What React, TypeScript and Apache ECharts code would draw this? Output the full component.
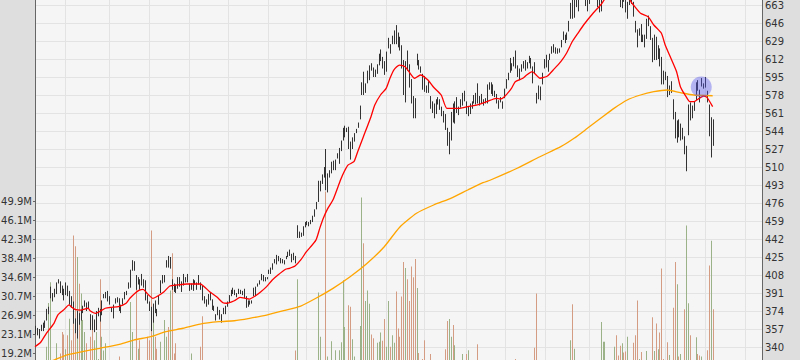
import React, { useEffect, useRef } from "react";
import * as echarts from "echarts";

// Daily bars [open, high, low, close], 2011-07-08 .. 2012-12-07
const priceBars: number[][] = [
  // Jul 2011
  [353,360,352,359.7],[356,358,351,354.0],[354,357,348,353.8],[358,361,355,358.0],[361,363,355,357.8],[361,365,358,364.9],[366,376,365,373.8],[378,378,371,376.9],[397,397,386,386.9],[387,391,383,387.3],[388,395,387,393.3],[391,401,390,398.5],[401,404,400,403.4],[401,402,391,392.6],[391,398,389,391.8],[387,395,384,390.5],
  // Aug 2011
  [397,401,389,396.8],[397,398,388,388.9],[390,393,380,392.6],[387,388,377,377.4],[380,383,362,373.6],[361,367,353,353.2],[362,374,348,374.0],[371,372,361,363.7],[368,375,365,373.7],[378,379,372,377.0],[379,384,378,383.4],[381,382,374,380.5],[383,383,376,380.4],[370,371,356,366.1],[362,370,356,356.0],[365,366,354,356.4],[360,374,356,373.6],[373,377,369,376.2],[365,376,364,373.7],[371,384,370,383.6],[388,390,386,390.0],[389,392,386,390.1],[392,393,383,384.8],
  // Sep 2011
  [386,388,380,381.0],[375,377,373,374.1],[368,380,367,379.7],[386,386,381,383.9],[383,387,382,384.1],[383,386,374,377.5],[373,380,372,379.9],[382,386,380,384.6],[387,392,385,389.3],[391,393,389,393.0],[395,401,395,400.5],[397,413,396,411.6],[414,422,412,413.5],[419,421,412,412.1],[401,408,394,401.8],[399,406,399,404.3],[400,404,394,403.2],[409,409,398,399.3],[400,404,396,397.0],[402,403,384,390.6],[388,389,381,381.3],
  // Oct 2011
  [380,383,374,374.6],[375,378,355,372.5],[368,381,363,378.3],[374,384,372,377.4],[375,376,369,369.8],[380,389,380,388.8],[392,403,391,400.3],[406,408,400,402.2],[405,408,401,408.4],[417,422,415,422.0],[422,426,415,420.0],[422,425,414,422.2],[402,404,394,398.6],[399,400,392,395.3],[398,399,391,392.9],[396,406,395,405.8],[405,406,397,397.8],[402,402,392,400.6],[408,409,398,404.7],[402,406,401,405.0],[403,409,401,404.8],
  // Nov 2011
  [397,400,393,396.5],[400,400,394,397.4],[399,404,393,403.1],[402,403,399,400.2],[401,401,394,399.7],[403,408,399,406.2],[397,401,394,395.3],[398,398,384,385.2],[387,388,381,384.6],[384,385,378,379.3],[380,390,380,388.8],[389,391,384,384.8],[384,385,375,377.4],[379,379,374,374.9],[370,371,365,369.0],[371,378,370,376.5],[374,375,366,366.0],[368,371,363,363.6],[373,377,371,376.1],[376,379,371,373.2],[382,383,378,382.2],
  // Dec 2011
  [383,389,382,387.9],[390,394,388,389.7],[394,396,390,393.0],[393,394,389,391.0],[390,391,387,389.1],[391,395,390,390.7],[392,394,390,393.6],[391,393,389,391.8],[393,395,386,388.8],[387,388,377,380.2],[383,384,378,378.9],[381,384,380,381.0],[383,384,381,382.2],[388,396,388,396.0],[396,397,388,396.5],[398,400,397,398.6],[400,403,399,403.3],[403,409,403,406.5],[406,408,402,402.6],[403,406,402,405.1],[404,406,404,405.0],
  // Jan 2012
  [409,413,409,411.2],[411,415,409,413.4],[415,419,413,418.0],[420,423,419,422.4],[425,427,418,421.7],[426,426,421,423.2],[422,424,419,422.6],[423,423,419,421.4],[420,422,418,419.8],[425,426,423,424.7],[426,430,425,429.1],[431,432,426,427.8],[427,428,420,420.3],[423,429,422,427.4],[426,426,419,420.4],[454,455,443,446.7],[449,449,443,444.6],[445,448,444,447.3],[446,454,445,453.0],[456,458,453,456.5],
  // Feb 2012
  [459,459,455,456.2],[456,458,454,455.1],[458,460,456,459.7],[459,464,458,464.0],[465,470,463,468.8],[471,477,470,476.7],[480,497,477,493.2],[487,497,487,493.4],[499,503,494,502.6],[505,510,500,509.5],[515,527,488,497.7],[491,504,486,502.2],[504,507,500,502.1],[506,515,504,514.9],[514,516,507,513.0],[515,517,507,516.4],[520,523,518,522.4],[518,528,513,525.8],[527,535,525,535.4],[541,547,535,542.4],
  // Mar 2012
  [548,549,538,544.5],[544,547,543,545.2],[545,548,527,533.2],[523,534,517,530.3],[537,538,527,530.7],[534,542,534,542.0],[545,546,542,545.2],[548,552,547,552.0],[557,568,555,568.1],[579,590,578,589.6],[599,600,578,585.6],[584,589,580,585.61],[599,601,589,601.1],[599,606,592,606.0],[603,608,601,602.5],[597,604,595,599.3],[601,602,595,596.1],[600,607,598,607.0],[607,617,606,614.5],[618,621,610,617.6],[613,614,603,609.9],[609,610,597,599.6],
  // Apr 2012
  [601,619,600,618.6],[627,632,622,629.3],[624,626,617,624.3],[627,634,626,633.7],[627,639,626,636.2],[640,644,626,628.4],[637,637,623,626.2],[626,633,620,622.8],[624,625,603,605.2],[610,611,578,580.1],[578,610,571,609.7],[613,620,601,608.3],[606,607,585,587.4],[591,593,570,573.0],[571,577,556,571.7],[571,575,556,560.3],[615,617,606,610.0],[608,611,602,607.7],[605,605,599,603.0],[598,598,583,584.0],
  // May 2012
  [584,596,581,582.1],[581,587,580,586.0],[590,591,580,581.8],[575,577,565,565.3],[561,572,561,569.5],[567,570,556,568.2],[563,574,560,569.2],[575,576,569,570.5],[565,574,564,566.7],[562,567,558,558.2],[563,563,552,553.2],[557,560,545,546.1],[546,547,530,530.1],[534,543,522,530.4],[535,562,535,561.3],[570,570,552,557.0],[557,572,551,570.6],[575,576,561,565.3],[565,567,559,562.3],[570,574,566,572.3],[570,580,568,579.2],[581,582,572,577.7],
  // Jun 2012
  [570,572,560,561.0],[561,567,558,564.3],[562,570,560,562.8],[568,572,565,571.5],[578,578,570,571.7],[571,580,569,580.3],[588,589,570,571.2],[575,577,568,576.2],[574,579,570,572.2],[572,574,568,571.5],[572,575,570,574.1],[571,588,570,585.8],[583,590,583,587.4],[589,590,579,585.7],[585,588,577,577.7],[579,582,576,582.1],[577,579,570,570.8],[573,573,565,572.0],[575,576,571,574.5],[572,572,565,569.1],[578,584,575,584.0],
  // Jul 2012
  [585,593,584,592.5],[594,599,592,599.4],[601,613,599,609.9],[607,608,601,605.9],[606,614,605,613.9],[620,620,603,608.2],[606,606,595,604.4],[601,603,592,598.9],[602,607,600,605.0],[605,610,603,606.9],[611,611,601,606.94],[606,609,603,606.3],[611,615,608,614.3],[612,613,603,604.3],[595,605,589,603.8],[608,609,598,600.9],[575,580,570,575.0],[587,587,574,574.9],[577,586,573,585.2],[590,599,588,595.0],[604,612,603,610.8],
  // Aug 2012
  [615,616,604,606.8],[603,611,600,607.8],[613,617,611,615.7],[618,624,617,622.6],[623,626,618,620.9],[619,623,617,619.9],[618,622,617,620.7],[619,622,618,621.7],[624,630,623,630.0],[632,638,630,631.7],[632,635,627,630.8],[631,637,630,636.3],[640,648,638,648.1],[651,665,650,665.2],[670,674,650,656.1],[654,669,651,668.9],[667,669,661,662.6],[659,670,657,663.2],[679,681,671,675.7],[675,677,670,674.8],[675,677,670,673.5],[670,671,662,663.9],[668,668,657,665.2],
  // Sep 2012
  [665,676,664,675.0],[675,677,669,670.2],[673,677,668,676.3],[678,683,677,680.4],[681,682,661,662.7],[665,670,656,660.6],[666,670,657,669.8],[677,685,674,683.0],[689,696,687,691.3],[699,700,694,699.8],[699,703,697,701.9],[700,703,699,702.1],[699,700,693,698.7],[702,705,699,700.1],[686,696,684,690.8],[688,692,673,673.5],[668,673,661,665.2],[664,682,660,681.3],[678,682,666,667.1],
  // Oct 2012
  [671,676,656,659.4],[662,666,650,661.3],[664,672,663,671.5],[672,674,664,666.8],[665,666,652,652.6],[646,648,637,638.2],[639,640,623,635.9],[637,641,634,640.9],[644,645,628,628.1],[629,635,628,629.7],[632,635,623,634.8],[636,650,631,649.8],[648,653,643,644.6],[639,643,630,632.6],[631,632,609,609.8],[612,635,611,634.0],[631,633,611,613.4],[621,625,612,616.8],[620,622,605,609.5],[602,614,588,604.0],[594,601,588,595.3],
  // Nov 2012
  [599,600,592,596.5],[595,596,576,576.8],[583,587,578,584.6],[590,591,580,582.9],[573,574,555,558.0],[561,562,537,537.8],[540,554,533,547.1],[555,555,538,542.8],[538,551,535,542.9],[546,547,536,536.9],[537,539,522,525.6],[526,530,506,527.7],[541,569,540,565.7],[568,571,554,560.9],[564,568,556,561.7],[567,572,563,571.5],[575,590,573,589.5],[590,592,582,584.8],[577,583,571,582.9],[592,594,586,589.4],[587,589,584,585.3],
  // Dec 2012
  [593,595,585,586.2],[581,582,571,575.9],[568,569,539,538.8],[528,557,519,547.2],[553,555,530,533.3],
];

// Daily volume, millions of shares
const volumes: number[] = [
  14,12,13,15,14,16,20.5,29.4,33.6,17,16,21.2,17,19.1,23.5,23.0,
  20.0,22.8,26.2,21.8,43.1,40.9,38.7,33.3,31.3,25.9,23.5,21.2,17.0,22.5,24.5,21.8,23.5,18.0,34.2,22.5,19.7,21.2,16.5,
  14,12,15,13,14,18.5,13,15,17.8,16,17,29.6,23.5,17,34.6,20.1,21.8,17,16,17,22.5,
  21.8,44.1,26.0,22.5,20.1,17,21.5,17,25.9,22.5,24.5,31.9,39.5,19.1,21.2,16,14,13,15,13,12,
  13,19.1,14,12,11,13,20.5,26.7,15,13,14,12,15,12,13,11,10,8,12,11,14,
  16,13,12,11,10,12,13,11,12,15,14,16,11,16,11,9,8,9,8,7,7,
  10,9,10,11,12,10,9,8,9,10,9,9,15,9,19.7,34.2,17,12,11,14,
  13,11,13,11,16,17,31.5,22.5,17,17,52,18.5,14,21.6,15,19.8,15,19.8,21.4,34.0,
  24.5,16,28.9,28.6,22,18.5,15,16,24.7,50.8,41.5,29.8,31.9,29.2,23.0,22.2,17,21.3,21.5,23.4,21.7,26.1,
  20.5,29.8,20.5,22.8,21.3,31.7,24.2,22.5,30.7,37.7,36.5,34.2,29.8,36.8,34.6,38.3,32.4,19.2,16,18,
  21.8,15,16,19,17,16,15,13,14,17,17.5,20,25.7,26.1,22.5,24.9,20.8,17,13,16,19,17,
  19,19.8,15,14,13,14,21,16,14,13,15,17,16,14,13,11,14,10,9,11,16,
  15,9,14,11,12,18,15,16,13,11,12,11,15,14,13,20.3,31.3,17,14,13,15,
  14,12,12,11,12,9,8,7,9,13,11,9,17,21.8,29.1,20.1,15,13,16,10,7,9,12,
  12,12,11,12,17,16,25.5,21.5,21.5,17,13,11,12,20.5,22.8,18.7,20.7,21.2,19.3,
  19.5,22.5,15,14,21.3,22.8,29.9,18,19.4,17,15,19.6,17,15,26.5,19.6,25.2,20,23.4,36.4,18,
  15,21.4,18.8,17,28.4,37.7,33.2,18.5,19,17.5,28.1,45.1,29.3,22.8,15,9,22.4,19,18.7,18.5,16,
  17,19.8,37,42,28.1,
];

// Short moving average: [day index, price]
const fastMa: number[][] = [
  [0,340.3],[3,344.5],[6,352.9],[10,362.4],[12,370.2],[15,374.9],[18,379.7],[19,378.1],[21,375.6],[24,374.9],[28,376.6],[29,374.3],[32,371.8],[34,373.4],[37,376.6],[40,377.5],[44,378.1],[48,381.3],[50,386],[53,391.3],[55,393.8],[57,394.5],[59,390.7],[62,386],[64,387.5],[68,392.2],[71,397.6],[75,398.6],[80,399.5],[87,399.5],[92,392.2],[96,386.9],[99,381.8],[101,381.3],[105,383.7],[108,386.9],[111,386],[113,385.3],[116,388.2],[119,392.2],[122,397],[125,403.3],[128,408],[132,413.4],[134,414.3],[137,416.5],[140,422.2],[143,430],[148,441],[150,452],[152,462],[154,470],[157,479],[161,498],[163,506],[165,512],[168,515],[170,524.5],[173,538.6],[177,557.5],[179,568.6],[182,578],[185,584.3],[187,593.8],[189,601.6],[192,606.3],[195,604.7],[197,600],[200,593.8],[203,596.9],[207,592.2],[210,585.3],[214,578],[217,565.4],[221,565.4],[224,565.4],[228,567],[233,568.6],[238,571.7],[243,574.9],[245,574.2],[247,575.8],[251,584.3],[253,590.6],[257,593.8],[259,596.9],[262,600],[264,596.9],[266,593.8],[270,596],[273,601.6],[277,609.5],[280,617.4],[283,628.3],[286,636.3],[289,644.1],[294,655.2],[298,663],[300,668],[304,676],[308,680],[311,676],[314,666],[316,661.4],[319,655.2],[323,652],[326,644.1],[330,636.3],[332,625.2],[335,612.7],[338,600],[340,585.8],[343,576.4],[345,571.7],[347,571.7],[350,574.9],[352,577],[354,575.8],[357,567],
];

// Long moving average: [day index, price]
const slowMa: number[][] = [
  [0,322],[10,327.7],[17,332.5],[25,335.6],[34,338.8],[45,342.8],[52,346.6],[61,349.7],[69,354.5],[78,357.7],[87,361.7],[97,363.9],[105,364.8],[113,367.1],[122,370.2],[131,374.3],[140,378.7],[148,386],[157,395.4],[166,406.4],[175,419.1],[184,434.7],[192,452.9],[201,466.3],[210,474.1],[219,480.4],[228,488.3],[236,495.2],[240,497.7],[254,508.8],[266,519.7],[277,529.2],[284,537.1],[291,546.5],[298,556],[305,565.4],[312,573.3],[319,578],[326,581.1],[333,582.7],[340,580.2],[347,578],[357,577.3],
];

const highlightPoint: number[][] = [[351, 585.6]];

// Left (volume) axis tick values, millions
const volumeTicks: number[] = [19.21, 23.052, 26.894, 30.736, 34.578, 38.42, 42.262, 46.104, 49.946];

const marketHolidays: string[] = [
  "2011-09-05","2011-11-24","2011-12-26","2012-01-02","2012-01-16","2012-02-20",
  "2012-04-06","2012-05-28","2012-07-04","2012-09-03","2012-10-29","2012-10-30","2012-11-22",
];
const CATEGORY_COUNT = 384;

function buildDates(): string[] {
  const out: string[] = [];
  const d = new Date(Date.UTC(2011, 6, 8));
  while (out.length < CATEGORY_COUNT) {
    const wd = d.getUTCDay();
    const s = d.toISOString().slice(0, 10);
    if (wd !== 0 && wd !== 6 && !marketHolidays.includes(s)) out.push(s);
    d.setUTCDate(d.getUTCDate() + 1);
  }
  return out;
}

const UP = "#9bb187";
const DOWN = "#d59c84";
const BAR = "#333333";
const GRIDLINE = "#e3e3e3";
const AXIS = "#666666";
const FONT = "DejaVu Sans";

export default function App() {
  const ref = useRef<HTMLDivElement>(null);
  useEffect(() => {
    if (!ref.current) return;
    const chart = echarts.init(ref.current, undefined, { renderer: "svg" });
    const dates = buildDates();
    const monthStart = new Set<number>();
    for (let i = 1; i < dates.length; i++) {
      if (dates[i].slice(0, 7) !== dates[i - 1].slice(0, 7)) monthStart.add(i);
    }
    const volData = volumes.map((v, i) => {
      const prev = i > 0 ? priceBars[i - 1][3] : priceBars[0][0];
      return [i, v, priceBars[i][3] >= prev ? 1 : 0];
    });
    const barData = priceBars.map((b, i) => [i, b[0], b[1], b[2], b[3]]);

    const option: any = {
      animation: false,
      backgroundColor: "#dedede",
      grid: [
        { left: 35, right: 38, top: -13, bottom: -5, show: true, backgroundColor: "#f5f5f5", borderWidth: 0, containLabel: false, outerBoundsMode: "none" },
        { left: 35, right: 38, top: -44.66, bottom: -87.6, show: false, containLabel: false, outerBoundsMode: "none" },
      ],
      xAxis: [
        {
          type: "category", gridIndex: 0, data: dates, boundaryGap: false,
          axisLine: { show: false }, axisTick: { show: false }, axisLabel: { show: false },
          splitLine: { show: true, interval: (idx: number) => monthStart.has(idx), lineStyle: { color: GRIDLINE, width: 1 } },
        },
        {
          type: "category", gridIndex: 1, data: dates, boundaryGap: false, show: false,
        },
      ],
      yAxis: [
        {
          type: "value", gridIndex: 0, position: "right", min: 323, max: 680, interval: 17,
          axisLine: { show: true, lineStyle: { color: AXIS, width: 1 } },
          axisTick: { show: false },
          axisLabel: { color: "#333", fontSize: 10, fontFamily: FONT, margin: 3, showMinLabel: false, showMaxLabel: false },
          splitLine: { show: true, lineStyle: { color: GRIDLINE, width: 1 } },
        },
        {
          type: "value", gridIndex: 1, position: "left", min: 0, max: 100,
          axisLine: { show: true, lineStyle: { color: AXIS, width: 1 } },
          axisTick: { show: true, length: 2, customValues: volumeTicks, lineStyle: { color: AXIS } },
          axisLabel: {
            customValues: volumeTicks, color: "#333", fontSize: 10, fontFamily: FONT, margin: 3,
            formatter: (v: number) => v.toFixed(1) + "M",
          },
          splitLine: { show: false },
        },
      ],
      series: [
        {
          type: "custom", name: "volume", xAxisIndex: 1, yAxisIndex: 1, z: 1,
          data: volData, encode: { x: 0, y: 1 },
          renderItem: (params: any, api: any) => {
            const i = api.value(0);
            const top = api.coord([i, api.value(1)]);
            const base = api.coord([i, 0]);
            const x = Math.round(top[0]);
            return {
              type: "rect",
              shape: { x, y: top[1], width: 1, height: base[1] - top[1] },
              style: { fill: api.value(2) ? UP : DOWN },
            };
          },
        },
        {
          type: "custom", name: "price", xAxisIndex: 0, yAxisIndex: 0, z: 2,
          data: barData, encode: { x: 0, y: [1, 2, 3, 4] },
          renderItem: (params: any, api: any) => {
            const i = api.value(0);
            const hi = api.coord([i, api.value(2)]);
            const lo = api.coord([i, api.value(3)]);
            const x = Math.round(hi[0]) + 0.5;
            return {
              type: "line",
              shape: { x1: x, y1: hi[1], x2: x, y2: lo[1] },
              style: { stroke: BAR, lineWidth: 1 },
            };
          },
        },
        {
          type: "line", name: "slow", xAxisIndex: 0, yAxisIndex: 0, z: 3,
          data: slowMa, showSymbol: false, smooth: 0.2,
          lineStyle: { color: "#ffa500", width: 1.3 }, itemStyle: { color: "#ffa500" },
        },
        {
          type: "line", name: "fast", xAxisIndex: 0, yAxisIndex: 0, z: 4,
          data: fastMa, showSymbol: false, smooth: 0.2,
          lineStyle: { color: "#ff0000", width: 1.3 }, itemStyle: { color: "#ff0000" },
        },
        {
          type: "scatter", name: "mark", xAxisIndex: 0, yAxisIndex: 0, z: 5,
          data: highlightPoint, symbolSize: 21,
          itemStyle: { color: "rgba(80,80,235,0.5)" },
        },
      ],
    };
    chart.setOption(option);
    return () => chart.dispose();
  }, []);
  return <div ref={ref} style={{ position: "fixed", left: 0, top: 0, width: 800, height: 360 }} />;
}
